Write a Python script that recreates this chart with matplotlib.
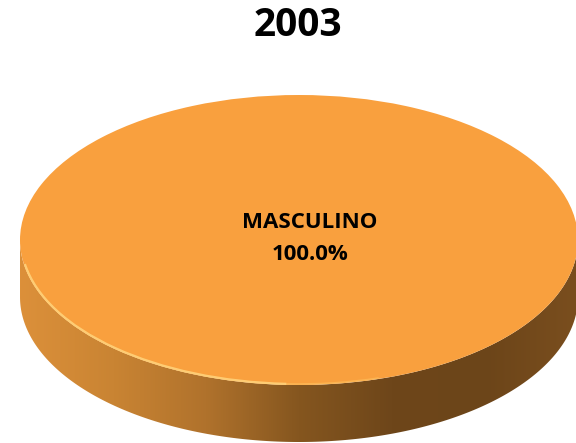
import numpy as np
import matplotlib.pyplot as plt
from matplotlib.patches import Polygon, Arc
from matplotlib.transforms import Affine2D
from matplotlib.colors import LinearSegmentedColormap

title = '2003'
labels = ['MASCULINO']
values = [100.0]
colors = ['#F9A03E']

fig = plt.figure(figsize=(5.76, 4.43), dpi=100)
ax = fig.add_axes([0, 0, 1, 1])

# ellipse geometry in pixel units
cx, cy = 299, 240
rx, ry = 279, 145
depth = 57

# side of the disc: front half of the ellipse pushed down
t = np.linspace(0, np.pi, 300)
xs = cx + rx * np.cos(t)
ys = cy + ry * np.sin(t)
side = np.vstack([np.column_stack([xs, ys + depth]),
                  np.column_stack([xs[::-1], ys[::-1]])])
side_poly = Polygon(side, closed=True, facecolor='none', edgecolor='none')
ax.add_patch(side_poly)
side_cmap = LinearSegmentedColormap.from_list(
    'side', ['#DC903A', '#C98433', '#B0722C', '#85561F', '#6E461A', '#6C4519', '#7A4E1E'])
grad = np.linspace(0, 1, 256).reshape(1, -1)
im = ax.imshow(grad, cmap=side_cmap, aspect='auto',
               extent=(cx - rx, cx + rx, cy + ry + depth + 2, cy - 5), zorder=1)
im.set_clip_path(side_poly)

# top face, drawn as a pie then squashed to an ellipse
wedges, _ = ax.pie(values, colors=colors, radius=rx, center=(cx, cy),
                   startangle=90, counterclock=False)
squash = Affine2D().translate(-cx, -cy).scale(1, ry / rx).translate(cx, cy)
for w in wedges:
    w.set_transform(squash + ax.transData)
    w.set_zorder(2)
    w.set_edgecolor('none')

# light rim on the front edge
rim = Arc((cx, cy), 2 * rx - 2, 2 * ry - 2, theta1=95, theta2=175,
          color='#FFD27A', lw=1.6, alpha=0.9, zorder=3)
ax.add_patch(rim)
rim2 = Arc((cx, cy), 2 * rx - 2, 2 * ry - 2, theta1=60, theta2=95,
           color='#FFC865', lw=1.2, alpha=0.5, zorder=3)
ax.add_patch(rim2)

total = sum(values)
for lab, v in zip(labels, values):
    ax.text(310, 222, lab, ha='center', va='center', fontsize=16,
            fontweight='bold', family='Open Sans', color='black', zorder=4)
    ax.text(310, 254, '%.1f%%' % (100 * v / total), ha='center', va='center',
            fontsize=16, fontweight='bold', family='Open Sans', color='black', zorder=4)

ax.text(298, 25, title, ha='center', va='center', fontsize=28,
        fontweight='bold', family='Open Sans', color='black')

ax.set_xlim(0, 576)
ax.set_ylim(443, 0)
ax.set_aspect('auto')
ax.axis('off')

fig.savefig('out.png', dpi=100)
